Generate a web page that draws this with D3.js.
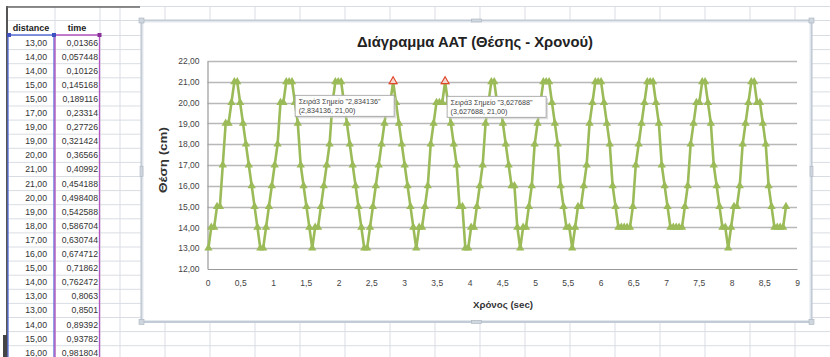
<!DOCTYPE html>
<html>
<head>
<meta charset="utf-8">
<script src="https://cdn.jsdelivr.net/npm/d3@7"></script>
<style>
  body { margin: 0; background: #fff; }
  svg { display: block; }
</style>
</head>
<body>
<svg id="sheet" width="830" height="357"></svg>
<script>
// Measured samples: time (s) and position (cm)
const times = [
  0.01366,0.057448,0.10126,0.145168,0.189116,0.23314,0.27726,0.321424,0.36566,0.40992,
  0.454188,0.498408,0.542588,0.586704,0.630744,0.674712,0.71862,0.762472,0.8063,0.8501,
  0.89392,0.93782,0.981804,1.0259,1.0700,1.1141,1.1582,1.2023,1.2464,1.2905,
  1.3346,1.3787,1.4228,1.4669,1.5110,1.5551,1.5992,1.6433,1.6874,1.7315,
  1.7756,1.8197,1.8638,1.9079,1.9520,1.9961,2.0402,2.0843,2.1284,2.1725,
  2.2166,2.2607,2.3048,2.3489,2.3930,2.4371,2.4812,2.5253,2.5694,2.6135,
  2.6576,2.7017,2.7458,2.7899,2.834136,2.8782,2.9223,2.9664,3.0105,3.0546,
  3.0987,3.1428,3.1869,3.2310,3.2751,3.3192,3.3633,3.4074,3.4515,3.4956,
  3.5397,3.5838,3.627688,3.6718,3.7159,3.7600,3.8041,3.8482,3.8923,3.9364,
  3.9805,4.0246,4.0687,4.1128,4.1569,4.2010,4.2451,4.2892,4.3333,4.3774,
  4.4215,4.4656,4.5097,4.5538,4.5979,4.6420,4.6861,4.7302,4.7743,4.8184,
  4.8625,4.9066,4.9507,4.9948,5.0389,5.0830,5.1271,5.1712,5.2153,5.2594,
  5.3035,5.3476,5.3917,5.4358,5.4799,5.5240,5.5681,5.6122,5.6563,5.7004,
  5.7445,5.7886,5.8327,5.8768,5.9209,5.9650,6.0091,6.0532,6.0973,6.1414,
  6.1855,6.2296,6.2737,6.3178,6.3619,6.4060,6.4501,6.4942,6.5383,6.5824,
  6.6265,6.6706,6.7147,6.7588,6.8029,6.8470,6.8911,6.9352,6.9793,7.0234,
  7.0675,7.1116,7.1557,7.1998,7.2439,7.2880,7.3321,7.3762,7.4203,7.4644,
  7.5085,7.5526,7.5967,7.6408,7.6849,7.7290,7.7731,7.8172,7.8613,7.9054,
  7.9495,7.9936,8.0377,8.0818,8.1259,8.1700,8.2141,8.2582,8.3023,8.3464,
  8.3905,8.4346,8.4787,8.5228,8.5669,8.6110,8.6551,8.6992,8.7433,8.7874,
  8.8315
];
const positions = [
  13,14,14,15,15,17,19,19,20,21,
  21,20,19,18,17,16,15,14,13,13,
  14,15,16,17,18,20,20,21,21,21,
  20,19,17,16,15,14,13,14,14,15,
  16,17,18,20,21,21,21,20,19,18,
  17,16,15,14,13,13,14,15,16,17,
  18,19,20,20,21,20,19,18,17,16,
  15,14,13,14,14,15,16,18,19,20,
  20,20,21,20,19,18,17,15,15,13,
  13,14,14,15,16,17,19,20,21,21,
  20,20,19,18,17,16,16,14,13,14,
  14,15,16,18,19,20,21,21,21,20,
  19,18,16,15,14,14,13,14,15,15,
  16,17,19,20,21,21,21,20,19,18,
  16,15,14,14,14,14,14,15,17,18,
  19,20,21,21,21,20,19,17,16,15,
  14,14,14,14,14,15,16,18,19,20,
  20,21,21,20,19,17,16,15,14,14,
  13,14,15,15,16,18,19,20,21,21,
  20,20,19,18,16,15,14,14,14,14,
  15
];
const yTicks = [12,13,14,15,16,17,18,19,20,21,22];
const xTicks = [0,0.5,1,1.5,2,2.5,3,3.5,4,4.5,5,5.5,6,6.5,7,7.5,8,8.5,9];
const tableHeaders = ["distance", "time"];
const tableRowCount = 23;            // rows visible in the worksheet
const selectedPoints = [64, 82];     // points with a data-label popup
const seriesName = "Σειρά3";
const titleText = "Διάγραμμα ΑΑΤ (Θέσης - Χρονού)";
const yTitleText = "Θέση (cm)";
const xTitleText = "Χρόνος (sec)";

const locale = d3.formatLocale({decimal: ",", thousands: ".", grouping: [3], currency: ["", "€"]});
const fmt2 = locale.format(".2f");
const fmtTick = locale.format(".1~f");
const fmtRaw = v => String(v).replace(".", ",");

const svg = d3.select("#sheet");
const W = 830, H = 357;
const FONT = "'Liberation Sans', Arial, sans-serif";

// ---------- worksheet background ----------
const rowTop = 35, rowH = 14.1;
const gridColor = "#d9dde3";
const sheet = svg.append("g");
const colLines = [55, 100, 120].concat(d3.range(165, 846, 45));
sheet.selectAll("line.col").data(colLines).join("line")
  .attr("x1", d => d).attr("x2", d => d).attr("y1", 6).attr("y2", H)
  .attr("stroke", gridColor).attr("stroke-width", 1);
const rowLines = [6, 20].concat(d3.range(0, 24).map(i => rowTop + i * rowH));
sheet.selectAll("line.row").data(rowLines).join("line")
  .attr("x1", 8).attr("x2", W).attr("y1", d => d + 0.5).attr("y2", d => d + 0.5)
  .attr("stroke", gridColor).attr("stroke-width", 1);

// frame edges of the sheet
sheet.append("line").attr("x1", 7).attr("x2", 7).attr("y1", 6).attr("y2", H)
  .attr("stroke", "#555").attr("stroke-width", 2);
sheet.append("line").attr("x1", 6).attr("x2", 140).attr("y1", 7).attr("y2", 7)
  .attr("stroke", "#666").attr("stroke-width", 1.5);
sheet.append("rect").attr("x", 3).attr("y", 335).attr("width", 4).attr("height", 22).attr("fill", "#444");

// headers
sheet.selectAll("text.hdr").data(tableHeaders).join("text")
  .attr("x", (d, i) => i === 0 ? 31 : 77).attr("y", 30.5)
  .attr("text-anchor", "middle").attr("font-family", FONT)
  .attr("font-size", 9).attr("font-weight", "bold").attr("fill", "#222")
  .text(d => d);

// cell values
const rows = d3.range(tableRowCount);
sheet.selectAll("text.dist").data(rows).join("text")
  .attr("x", 47).attr("y", i => rowTop + i * rowH + 10.5)
  .attr("text-anchor", "end").attr("font-family", FONT).attr("font-size", 8.7).attr("fill", "#333")
  .text(i => fmt2(positions[i]));
sheet.selectAll("text.time").data(rows).join("text")
  .attr("x", 98).attr("y", i => rowTop + i * rowH + 10.5)
  .attr("text-anchor", "end").attr("font-family", FONT).attr("font-size", 8.7).attr("fill", "#333")
  .text(i => fmtRaw(times[i]));

// range highlight outlines (distance = blue, time = purple)
sheet.append("path").attr("d", `M8,${H} V${rowTop} H54 V${H}`)
  .attr("fill", "none").attr("stroke", "#5a6fd6").attr("stroke-width", 1.3);
sheet.append("path").attr("d", `M55,${H} V${rowTop} H99.5 V${H}`)
  .attr("fill", "none").attr("stroke", "#b455c0").attr("stroke-width", 1.3);
[[9, "#3f51c0"], [54, "#3f51c0"], [99.5, "#8a2e99"]].forEach(([x, c]) => {
  sheet.append("rect").attr("x", x - 2).attr("y", rowTop - 2).attr("width", 4).attr("height", 4).attr("fill", c);
});

// ---------- chart object ----------
const box = {x: 141.5, y: 20.5, w: 670, h: 301.5};
svg.append("rect").attr("x", box.x).attr("y", box.y).attr("width", box.w).attr("height", box.h)
  .attr("rx", 3).attr("fill", "#fff").attr("stroke", "#c3ccd6").attr("stroke-width", 2.2);
svg.append("rect").attr("x", box.x + 1.5).attr("y", box.y + 1.5).attr("width", box.w - 3).attr("height", box.h - 3)
  .attr("rx", 2).attr("fill", "none").attr("stroke", "#e3e8ee").attr("stroke-width", 1);
// resize handles
const handles = [
  [box.x, box.y + box.h / 2, 3, 10], [box.x + box.w, box.y + box.h / 2, 3, 10],
  [box.x + box.w / 2, box.y, 10, 3], [box.x + box.w / 2, box.y + box.h, 10, 3],
  [box.x, box.y, 5, 5], [box.x + box.w, box.y, 5, 5], [box.x, box.y + box.h, 5, 5], [box.x + box.w, box.y + box.h, 5, 5]
];
svg.selectAll("rect.handle").data(handles).join("rect")
  .attr("x", d => d[0] - d[2] / 2).attr("y", d => d[1] - d[3] / 2)
  .attr("width", d => d[2]).attr("height", d => d[3])
  .attr("fill", "#cfd6de").attr("stroke", "#a9b3bf").attr("stroke-width", 0.6);

// scales
const x = d3.scaleLinear().domain([0, 9]).range([207.5, 797]);
const y = d3.scaleLinear().domain([12, 22]).range([269, 61]);

// horizontal gridlines
const plot = svg.append("g");
plot.selectAll("line.grid").data(yTicks.slice(1)).join("line")
  .attr("x1", x(0)).attr("x2", x(9)).attr("y1", d => Math.round(y(d)) + 0.5).attr("y2", d => Math.round(y(d)) + 0.5)
  .attr("stroke", "#b8b8b8").attr("stroke-width", 1.3);

// axes
const yAxis = d3.axisLeft(y).tickValues(yTicks).tickFormat(fmt2).tickSize(0).tickPadding(8);
const gy = plot.append("g").attr("transform", `translate(${x(0)},0)`).call(yAxis);
gy.select(".domain").attr("stroke", "#9a9a9a").attr("stroke-width", 1.2);
gy.selectAll("text").attr("font-family", FONT).attr("font-size", 8.5).attr("fill", "#444");

const xAxis = d3.axisBottom(x).tickValues(xTicks).tickFormat(fmtTick).tickSize(0).tickPadding(11);
const gx = plot.append("g").attr("transform", `translate(0,${y(12)})`).call(xAxis);
gx.select(".domain").attr("stroke", "#9a9a9a").attr("stroke-width", 1.2);
gx.selectAll("text").attr("font-family", FONT).attr("font-size", 8.5).attr("fill", "#444");

// titles
svg.append("text").attr("x", 475).attr("y", 46.5).attr("text-anchor", "middle")
  .attr("font-family", FONT).attr("font-size", 15).attr("font-weight", "bold").attr("fill", "#222")
  .attr("textLength", 236).attr("lengthAdjust", "spacingAndGlyphs").text(titleText);
svg.append("text").attr("transform", "translate(167,160) rotate(-90)").attr("text-anchor", "middle")
  .attr("font-family", FONT).attr("font-size", 11).attr("font-weight", "bold").attr("fill", "#333")
  .attr("textLength", 66).attr("lengthAdjust", "spacingAndGlyphs").text(yTitleText);
svg.append("text").attr("x", 503).attr("y", 307.5).attr("text-anchor", "middle")
  .attr("font-family", FONT).attr("font-size", 9).attr("font-weight", "bold").attr("fill", "#333")
  .attr("textLength", 60).attr("lengthAdjust", "spacingAndGlyphs").text(xTitleText);

// series line + markers
const data = times.map((t, i) => ({t, v: positions[i], i}));
const green = "#9bbb59";
plot.append("path").datum(data)
  .attr("d", d3.line().x(d => x(d.t)).y(d => y(d.v)))
  .attr("fill", "none").attr("stroke", green).attr("stroke-width", 2.6).attr("stroke-linejoin", "round");
const tri = d3.symbol(d3.symbolTriangle).size(30);
plot.selectAll("path.mk").data(data).join("path")
  .attr("transform", d => `translate(${x(d.t)},${y(d.v)})`)
  .attr("d", tri).attr("fill", green);

// selected points: hollow red markers
const sel = selectedPoints.map(i => data[i]);
plot.selectAll("path.sel").data(sel).join("path")
  .attr("transform", d => `translate(${x(d.t)},${y(d.v) - 0.5})`)
  .attr("d", d3.symbol(d3.symbolTriangle).size(28))
  .attr("fill", "#f3d9cf").attr("stroke", "#e0452a").attr("stroke-width", 1.1);

// data-label popups
const popOffsets = [[-98, 13.5], [2, 14.5]];
sel.forEach((d, k) => {
  const px = x(d.t) + popOffsets[k][0], py = y(d.v) + popOffsets[k][1];
  const g = svg.append("g").attr("transform", `translate(${px},${py})`);
  g.append("rect").attr("x", 2).attr("y", 2).attr("width", 99).attr("height", 21).attr("fill", "#c9c9c9").attr("opacity", 0.6);
  g.append("rect").attr("x", 0).attr("y", 0).attr("width", 99).attr("height", 21)
    .attr("fill", "#fff").attr("stroke", "#9c9c9c").attr("stroke-width", 0.8);
  g.append("text").attr("x", 3.5).attr("y", 8.5).attr("font-family", FONT).attr("font-size", 7.2).attr("fill", "#444")
    .text(`${seriesName} Σημείο "${fmtRaw(d.t)}"`);
  g.append("text").attr("x", 3.5).attr("y", 17.5).attr("font-family", FONT).attr("font-size", 7.2).attr("fill", "#444")
    .text(`(${fmtRaw(d.t)}, ${fmt2(d.v)})`);
});
</script>
</body>
</html>
